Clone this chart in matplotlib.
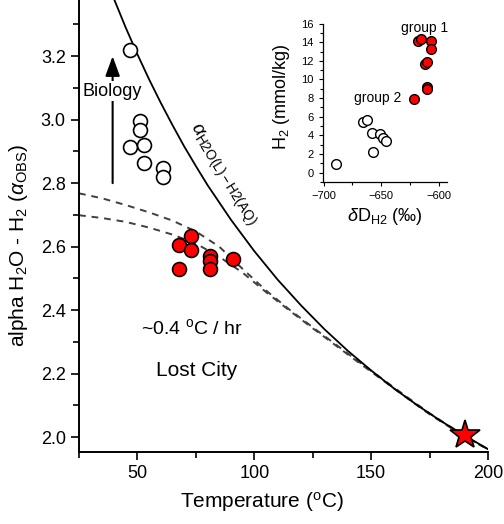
import matplotlib
matplotlib.use('Agg')
import matplotlib.pyplot as plt
from matplotlib.ticker import MultipleLocator

plt.rcParams['font.family'] = ['Liberation Sans', 'DejaVu Sans']
plt.rcParams['mathtext.fontset'] = 'custom'
plt.rcParams['mathtext.rm'] = 'Liberation Sans'
plt.rcParams['mathtext.it'] = 'Liberation Sans:italic'

# equilibrium curve alpha H2O(l)-H2(aq)
eq_T = [35, 40, 45, 50, 55, 60, 65, 70, 75, 80, 90, 100, 110, 120, 130,
        140, 150, 160, 170, 180, 190, 200]
eq_a = [3.475, 3.380, 3.290, 3.206, 3.127, 3.053, 2.983, 2.916, 2.854, 2.794,
        2.685, 2.586, 2.496, 2.415, 2.340, 2.272, 2.210, 2.152, 2.099, 2.050,
        2.005, 1.962]

# cooling model curves (dashed)
cool_T = [25, 35, 45, 55, 65, 75, 85, 95, 105, 115, 125, 135, 145, 155,
          165, 175, 185, 195, 200]
cool_hi = [2.768, 2.752, 2.731, 2.708, 2.682, 2.648, 2.600, 2.530, 2.462,
           2.402, 2.346, 2.291, 2.236, 2.182, 2.128, 2.075, 2.027, 1.982, 1.962]
cool_lo = [2.699, 2.690, 2.678, 2.660, 2.638, 2.610, 2.568, 2.518, 2.457,
           2.399, 2.343, 2.288, 2.233, 2.179, 2.125, 2.072, 2.025, 1.981, 1.962]

# observed alpha, group 2 (open) and group 1 (red)
open_T = [46.8, 51.1, 51.1, 46.8, 52.9, 52.9, 61.0, 61.0]
open_a = [3.22, 2.997, 2.966, 2.915, 2.92, 2.863, 2.849, 2.82]
red_T = [72.9, 67.7, 72.9, 81.0, 81.0, 81.0, 67.7, 91.0]
red_a = [2.633, 2.604, 2.589, 2.570, 2.554, 2.528, 2.531, 2.561]

star_T = [190]
star_a = [2.005]

# inset: dD(H2) vs H2
g2_dD = [-688.9, -666.1, -662.6, -658.3, -657.4, -651.0, -648.6, -645.8]
g2_H2 = [0.93, 5.47, 5.65, 4.22, 2.22, 4.11, 3.75, 3.40]
g1_dD = [-621.3, -617.5, -615.4, -610.2, -610.2, -611.6, -610.2, -606.4, -606.4]
g1_H2 = [7.90, 14.15, 14.33, 9.15, 8.94, 11.62, 11.90, 14.12, 13.22]

fig = plt.figure(figsize=(5.04, 5.24), dpi=100)
ax = fig.add_axes([0.1567, 0.1374, 0.8115, 0.8626])

ax.plot(eq_T, eq_a, '-', color='k', lw=1.3, zorder=3)
ax.plot(cool_T, cool_hi, '--', color='#404040', lw=1.4, dashes=(3.5, 3), zorder=2)
ax.plot(cool_T, cool_lo, '--', color='#404040', lw=1.4, dashes=(3.5, 3), zorder=2)

ax.plot(open_T, open_a, 'o', ms=10, mfc='white', mec='k', mew=1.2, ls='none', zorder=5)
ax.plot(red_T, red_a, 'o', ms=10, mfc='#ff0000', mec='k', mew=1.2, ls='none', zorder=5)
ax.plot(star_T, star_a, '*', ms=22, mfc='#ff0000', mec='k', mew=1.2, ls='none', zorder=6,
        clip_on=False)

# biology arrow
ax.annotate('', xy=(39.4, 3.2), xytext=(39.4, 2.8),
            arrowprops=dict(arrowstyle='-|>,head_length=0.6,head_width=0.22',
                            mutation_scale=20, lw=1.5, color='k',
                            shrinkA=0, shrinkB=0), zorder=3)
ax.text(39.4, 3.09, 'Biology', fontsize=13, ha='center', va='center', zorder=4,
        bbox=dict(facecolor='white', edgecolor='none', pad=1.0))

ax.text(86.1, 2.826, r'$\alpha_{\mathrm{H2O(L)-H2(AQ)}}$', fontsize=14,
        rotation=-58, ha='center', va='center', rotation_mode='anchor')
ax.text(73.3, 2.345, r'~0.4 $^{\mathrm{o}}$C / hr', fontsize=14, ha='center', va='center')
ax.text(75.3, 2.209, 'Lost City', fontsize=15, ha='center', va='center')

ax.set_xlim(25, 200)
ax.set_ylim(1.953, 3.377)
ax.xaxis.set_major_locator(MultipleLocator(50))
ax.xaxis.set_minor_locator(MultipleLocator(25))
ax.yaxis.set_major_locator(MultipleLocator(0.2))
ax.yaxis.set_minor_locator(MultipleLocator(0.1))
ax.yaxis.set_major_formatter(matplotlib.ticker.FormatStrFormatter('%.1f'))
ax.spines['top'].set_visible(False)
ax.spines['right'].set_visible(False)
for s in ['left', 'bottom']:
    ax.spines[s].set_linewidth(1.4)
ax.tick_params(which='major', direction='out', length=6, width=1.2, labelsize=13)
ax.tick_params(which='minor', direction='out', length=4, width=1.2)

ax.set_xlabel(r'Temperature ($^{\mathrm{o}}$C)', fontsize=15)
ax.set_ylabel(r'alpha H$_2$O - H$_2$ ($\alpha_{\mathrm{OBS}}$)', fontsize=15)
ax.xaxis.set_label_coords(0.447, -0.085)
ax.yaxis.set_label_coords(-0.12, 0.458)

# inset
ins = fig.add_axes([0.640, 0.653, 0.246, 0.302])
ins.plot(g2_dD, g2_H2, 'o', ms=7, mfc='white', mec='k', mew=1.0, ls='none')
ins.plot(g1_dD, g1_H2, 'o', ms=7, mfc='#ff0000', mec='k', mew=1.0, ls='none')
ins.text(-612, 15.5, 'group 1', fontsize=10, ha='center', va='center')
ins.text(-653, 8.0, 'group 2', fontsize=10, ha='center', va='center')
ins.set_xlim(-701, -593)
ins.set_ylim(-1, 16)
ins.xaxis.set_major_locator(MultipleLocator(50))
ins.xaxis.set_minor_locator(MultipleLocator(25))
ins.yaxis.set_major_locator(MultipleLocator(2))
ins.yaxis.set_minor_locator(MultipleLocator(1))
ins.spines['top'].set_visible(False)
ins.spines['right'].set_visible(False)
for s in ['left', 'bottom']:
    ins.spines[s].set_linewidth(0.9)
ins.tick_params(which='major', direction='out', length=3, width=0.8, labelsize=8)
ins.tick_params(which='minor', direction='out', length=2, width=0.8)
ins.set_xlabel(r'$\delta$D$_{\mathrm{H2}}$ (‰)', fontsize=13)
ins.set_ylabel(r'H$_2$ (mmol/kg)', fontsize=13)
ins.xaxis.set_label_coords(0.502, -0.15)
ins.yaxis.set_label_coords(-0.25, 0.535)
ins.patch.set_alpha(0)

fig.savefig('out.png', dpi=100)
